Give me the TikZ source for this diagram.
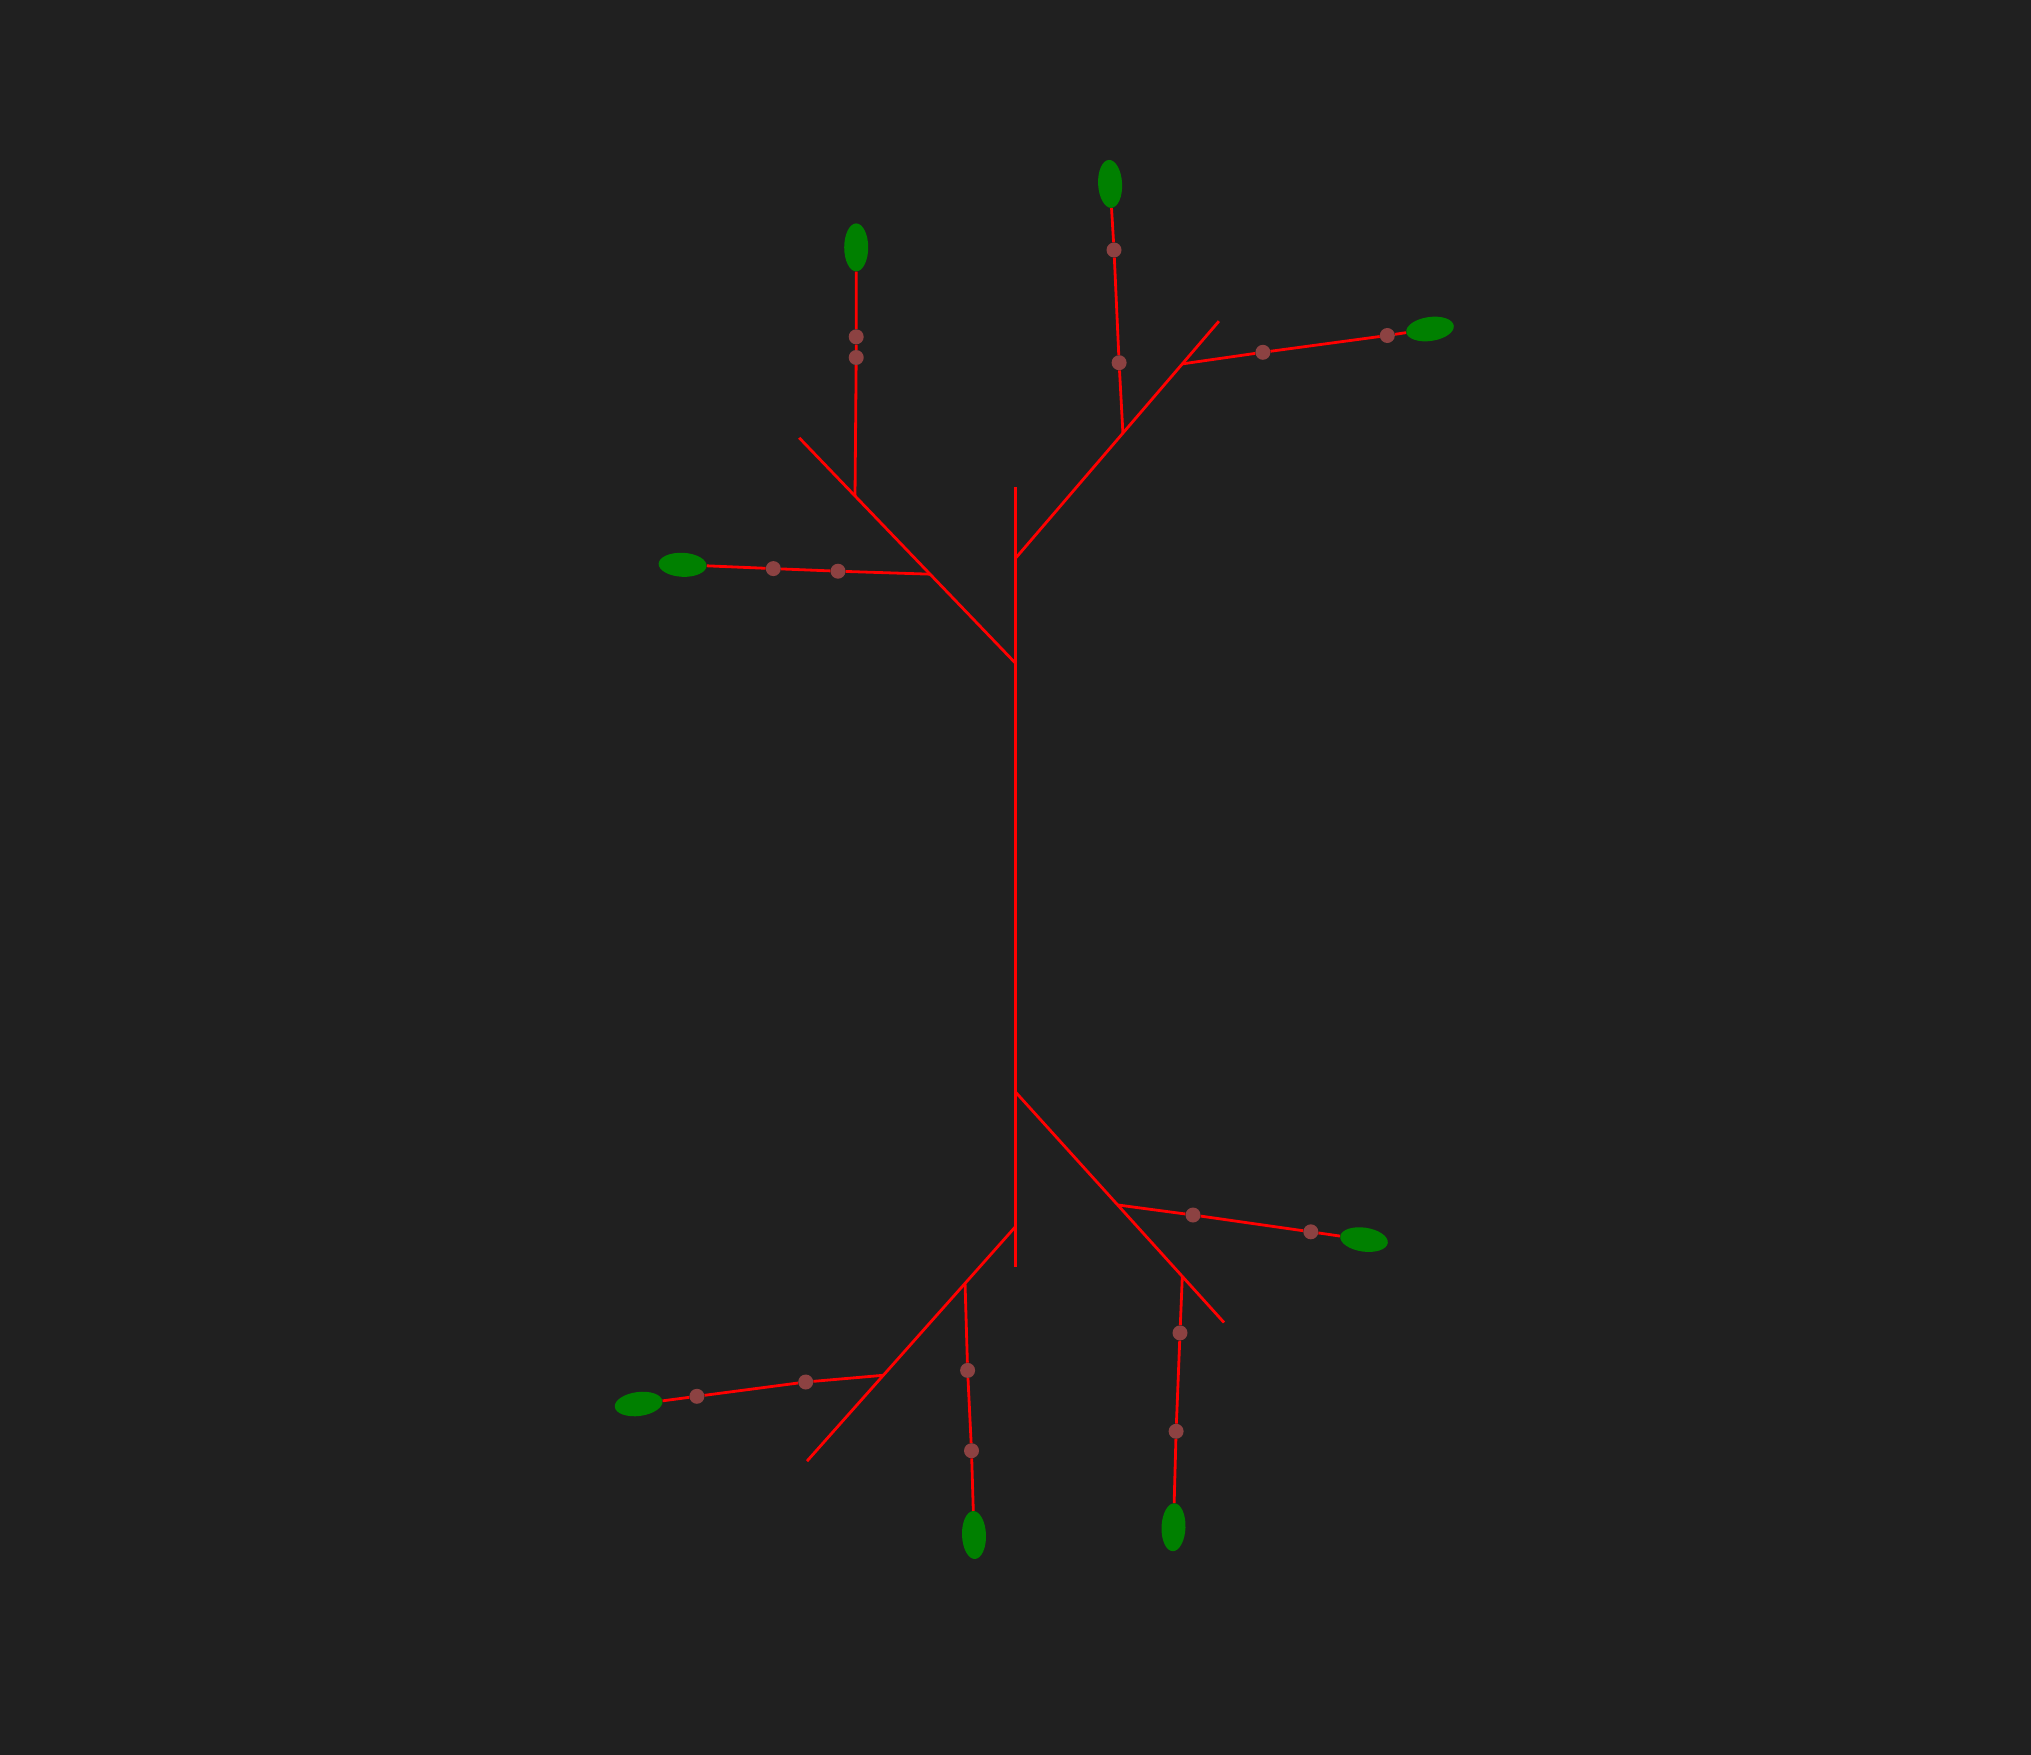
\documentclass[tikz,border=0pt]{standalone}
\usetikzlibrary{shapes.geometric,calc}
\definecolor{bgc}{RGB}{32,32,32}
\definecolor{branchred}{RGB}{255,0,0}
\definecolor{leafgreen}{RGB}{0,128,0}
\definecolor{budc}{RGB}{140,66,66}
\tikzset{
  limb/.style={draw=branchred, line width=2.8pt},
  leaf/.style={ellipse, fill=leafgreen, draw=none, minimum width=48pt, minimum height=24pt, inner sep=0pt},
  bud/.style={circle, fill=budc, draw=none, minimum size=15pt, inner sep=0pt}
}
\begin{document}
\begin{tikzpicture}[x=1pt,y=-1pt]
\fill[bgc] (0,0) rectangle (2031,1755);
\useasboundingbox (0,0) rectangle (2031,1755);
% trunk
\coordinate (ttop) at (1015.5,487);
\coordinate (tbot) at (1015.5,1267);
% main branch bases and ends
\coordinate (urs) at (1015.5,558.3);  \coordinate (ure) at (1218.9,321.2);
\coordinate (uls) at (1015.5,663.2);  \coordinate (ule) at (799.2,437.8);
\coordinate (lrs) at (1015.5,1092);   \coordinate (lre) at (1224,1322.5);
\coordinate (lls) at (1015.5,1226.6); \coordinate (lle) at (807,1461.1);
% junctions
\coordinate (j1) at ($(urs)!0.528!(ure)$);
\coordinate (j2) at ($(urs)!0.82!(ure)$);
\coordinate (j3) at ($(uls)!0.742!(ule)$);
\coordinate (j4) at ($(uls)!0.395!(ule)$);
\coordinate (j5) at ($(lrs)!0.49!(lre)$);
\coordinate (j6) at ($(lrs)!0.80!(lre)$);
\coordinate (j7) at ($(lls)!0.634!(lle)$);
\coordinate (j8) at ($(lls)!0.242!(lle)$);
% leaves
\node[leaf, rotate=93]    (l1) at (1110.1,183.9) {};
\node[leaf, rotate=8]     (l2) at (1430,329) {};
\node[leaf, rotate=90]    (l3) at (856.2,247.4) {};
\node[leaf, rotate=177.3] (l4) at (682.6,564.8) {};
\node[leaf, rotate=-8.1]  (l5) at (1364,1239.6) {};
\node[leaf, rotate=-92.1] (l6) at (1173.5,1527.2) {};
\node[leaf, rotate=187.2] (l7) at (638.6,1404) {};
\node[leaf, rotate=-87.9] (l8) at (974,1535) {};
% branch lines
\draw[limb] (ttop) -- (tbot);
\draw[limb] (urs) -- (ure);
\draw[limb] (uls) -- (ule);
\draw[limb] (lrs) -- (lre);
\draw[limb] (lls) -- (lle);
% twigs with buds
\node[bud] (b1a) at (1119.1,362.7) {};
\node[bud] (b1b) at (1114,250) {};
\draw[limb] (j1) -- (b1a) -- (b1b) -- (l1);
\node[bud] (b2a) at (1262.9,352.3) {};
\node[bud] (b2b) at (1387.3,335.5) {};
\draw[limb] (j2) -- (b2a) -- (b2b) -- (l2);
\node[bud] (b3a) at (856.2,357.5) {};
\node[bud] (b3b) at (856.2,336.8) {};
\draw[limb] (j3) -- (b3a) -- (b3b) -- (l3);
\node[bud] (b4a) at (838,571.2) {};
\node[bud] (b4b) at (773.3,568.6) {};
\draw[limb] (j4) -- (b4a) -- (b4b) -- (l4);
\node[bud] (b5a) at (1193,1215) {};
\node[bud] (b5b) at (1310.8,1231.8) {};
\draw[limb] (j5) -- (b5a) -- (b5b) -- (l5);
\node[bud] (b6a) at (1180,1332.9) {};
\node[bud] (b6b) at (1176.1,1431.3) {};
\draw[limb] (j6) -- (b6a) -- (b6b) -- (l6);
\node[bud] (b7a) at (805.7,1382) {};
\node[bud] (b7b) at (696.9,1396.3) {};
\draw[limb] (j7) -- (b7a) -- (b7b) -- (l7);
\node[bud] (b8a) at (967.6,1370.4) {};
\node[bud] (b8b) at (971.5,1450.7) {};
\draw[limb] (j8) -- (b8a) -- (b8b) -- (l8);
\end{tikzpicture}
\end{document}
